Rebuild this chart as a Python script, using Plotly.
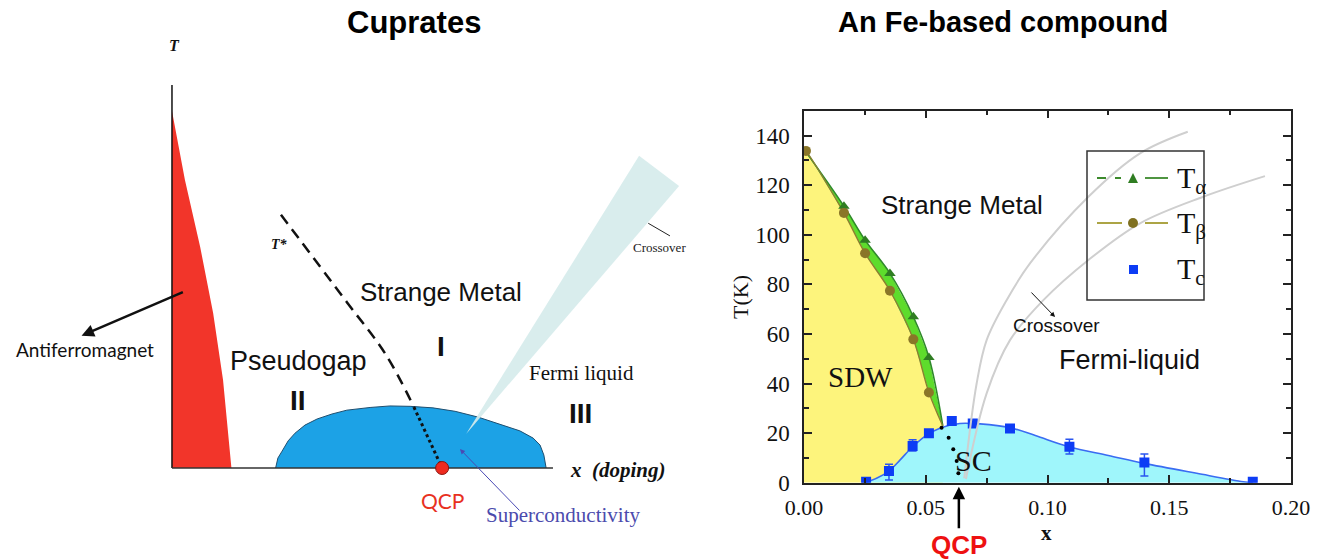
import plotly.graph_objects as go

W, H = 1325, 559
SANS = "Liberation Sans, Arial, sans-serif"
SERIF = "Liberation Serif, Times New Roman, serif"

# ---------------- Left panel: cuprate schematic (doping 0..1, T 0..1) -------------
afm_x = [0, 0.034, 0.074, 0.108, 0.134, 0.152, 0.156, 0]
afm_T = [0.932, 0.752, 0.577, 0.405, 0.230, 0.055, 0, 0]

sc_dome_x = [0.272, 0.278, 0.289, 0.305, 0.323, 0.349, 0.381, 0.420, 0.459, 0.520,
             0.572, 0.625, 0.685, 0.743, 0.803, 0.861, 0.913, 0.948, 0.966, 0.976, 0.982]
sc_dome_T = [0, 0.026, 0.044, 0.071, 0.091, 0.112, 0.128, 0.141, 0.151, 0.158,
             0.162, 0.161, 0.157, 0.148, 0.133, 0.115, 0.097, 0.078, 0.060, 0.034, 0]

tstar_x = [0.286, 0.459, 0.562, 0.635]
tstar_T = [0.661, 0.433, 0.295, 0.159]
qcp_line_x = [0.635, 0.709]
qcp_line_T = [0.159, 0.0]
qcp_x, qcp_T = [0.709], [0.0]

cone_x = [0.772, 1.226, 1.331]
cone_T = [0.089, 0.815, 0.736]

# ---------------- Right panel: Fe-based compound ----------------
ta_x = [0.0164, 0.0251, 0.0353, 0.0449, 0.0513]
ta_T = [111.5, 97.8, 84.4, 66.9, 50.5]
tb_x = [0.0008, 0.0164, 0.0251, 0.0353, 0.0449, 0.0513]
tb_T = [133.8, 108.8, 92.5, 77.4, 57.8, 36.4]
line_start = (0.0, 134.5)
line_end = (0.057, 22.9)

tc_x = [0.0255, 0.0349, 0.0446, 0.0513, 0.0607, 0.0693, 0.0846, 0.109, 0.1398, 0.1843]
tc_T = [0.4, 4.7, 14.8, 19.9, 24.9, 23.9, 21.9, 14.5, 8.1, 0.4]
tc_err_plus = [0, 2.7, 2.5, 0.8, 0.8, 0.8, 1.5, 3.0, 3.5, 0]
tc_err_minus = [0, 3.6, 2.0, 0.8, 0.8, 0.8, 1.5, 2.9, 5.4, 0]

tcfit_x = [0.025, 0.0298, 0.0349, 0.0394, 0.0446, 0.0504, 0.0563, 0.064, 0.0723,
           0.0846, 0.095, 0.1088, 0.125, 0.1398, 0.1613, 0.1804, 0.1843]
tcfit_T = [0, 1.8, 4.7, 9.1, 14.5, 19.2, 22.2, 23.9, 23.7, 22.2, 19.0, 14.5, 11.0,
           7.8, 3.8, 0.4, 0]

qcp_dots_x = [0.0565, 0.0594, 0.0613, 0.0627, 0.0634, 0.0636]
qcp_dots_T = [22.2, 18.1, 13.5, 8.7, 3.8, -0.9]

cross1_x = [0.0658, 0.0709, 0.075, 0.0832, 0.0928, 0.1168, 0.138, 0.1576]
cross1_T = [1.8, 40, 57.5, 73.6, 88.4, 115.3, 132.8, 141.5]
cross2_x = [0.0665, 0.075, 0.0846, 0.0983, 0.1168, 0.138, 0.164, 0.1893]
cross2_T = [1.5, 36, 57.5, 73.6, 89.8, 104.6, 115.3, 123.6]

x_ticks = [0, 0.05, 0.10, 0.15, 0.20]
x_ticktext = ["0.00", "0.05", "0.10", "0.15", "0.20"]
y_ticks = [0, 20, 40, 60, 80, 100, 120, 140]

fig = go.Figure()
L = dict(xaxis="x2", yaxis="y2", showlegend=False, hoverinfo="skip")

# left panel traces
fig.add_trace(go.Scatter(x=afm_x, y=afm_T, mode="lines", fill="toself",
                         fillcolor="#f2352a", line=dict(width=0), **L))
fig.add_trace(go.Scatter(x=sc_dome_x, y=sc_dome_T, mode="lines", fill="toself",
                         fillcolor="#1ca2e6", line=dict(color="#1f4f70", width=1), **L))
fig.add_trace(go.Scatter(x=cone_x + [cone_x[0]], y=cone_T + [cone_T[0]], mode="lines", fill="toself",
                         fillcolor="rgba(214,236,236,0.92)", line=dict(width=0), **L))
fig.add_trace(go.Scatter(x=[0, 0], y=[0, 1.0], mode="lines", line=dict(color="#111", width=1.5), **L))
fig.add_trace(go.Scatter(x=[0, 1.0], y=[0, 0], mode="lines", line=dict(color="#333", width=1.5), **L))
fig.add_trace(go.Scatter(x=tstar_x, y=tstar_T, mode="lines",
                         line=dict(color="#111", width=2.5, dash="11px,7px", shape="spline"), **L))
fig.add_trace(go.Scatter(x=qcp_line_x, y=qcp_line_T, mode="lines",
                         line=dict(color="#111", width=3, dash="3px,3px"), **L))
fig.add_trace(go.Scatter(x=qcp_x, y=qcp_T, mode="markers",
                         marker=dict(color="#ee2a1f", size=13, line=dict(color="#8a1410", width=1)), **L))
fig.add_trace(go.Scatter(x=[1.250, 1.307], y=[0.639, 0.606], mode="lines",
                         line=dict(color="#222", width=1), **L))

# right panel traces
R = dict(hoverinfo="skip")
yellow_x = [0, line_start[0]] + tb_x + [line_end[0], line_end[0], 0]
yellow_T = [0, line_start[1]] + tb_T + [line_end[1], 0, 0]
fig.add_trace(go.Scatter(x=yellow_x, y=yellow_T, mode="lines", fill="toself",
                         fillcolor="#fdf47c", line=dict(width=0), showlegend=False, **R))
band_x = [line_start[0]] + ta_x + [line_end[0]] + tb_x[::-1] + [line_start[0]]
band_T = [line_start[1]] + ta_T + [line_end[1]] + tb_T[::-1] + [line_start[1]]
fig.add_trace(go.Scatter(x=band_x, y=band_T, mode="lines", fill="toself",
                         fillcolor="#5edc2c", line=dict(width=0), showlegend=False, **R))
fig.add_trace(go.Scatter(x=tcfit_x, y=tcfit_T, mode="lines", fill="tozeroy",
                         fillcolor="#9ff6fb", line=dict(color="#3a6cf2", width=1.6, shape="spline"),
                         showlegend=False, **R))
fig.add_trace(go.Scatter(x=[line_start[0]] + ta_x + [line_end[0]], y=[line_start[1]] + ta_T + [line_end[1]],
                         mode="lines", line=dict(color="#2f8a2a", width=1.6, shape="spline"),
                         showlegend=False, **R))
fig.add_trace(go.Scatter(x=[line_start[0]] + tb_x + [line_end[0]], y=[line_start[1]] + tb_T + [line_end[1]],
                         mode="lines", line=dict(color="#8a8030", width=1.4, shape="spline"),
                         showlegend=False, **R))
fig.add_trace(go.Scatter(x=ta_x, y=ta_T, mode="markers",
                         marker=dict(symbol="triangle-up", size=10, color="#2f7d22"),
                         showlegend=False, **R))
fig.add_trace(go.Scatter(x=tb_x, y=tb_T, mode="markers",
                         marker=dict(symbol="circle", size=10, color="#8a7628"),
                         showlegend=False, **R))
fig.add_trace(go.Scatter(x=tc_x, y=tc_T, mode="markers",
                         marker=dict(symbol="square", size=10, color="#0d3cf5"),
                         error_y=dict(type="data", array=tc_err_plus, arrayminus=tc_err_minus,
                                      color="#2a55f0", thickness=1.5, width=4),
                         showlegend=False, **R))
fig.add_trace(go.Scatter(x=qcp_dots_x, y=qcp_dots_T, mode="markers",
                         marker=dict(color="#000", size=4), showlegend=False, **R))
fig.add_trace(go.Scatter(x=cross1_x, y=cross1_T, mode="lines",
                         line=dict(color="#cfcfcf", width=2, shape="spline"), showlegend=False, **R))
fig.add_trace(go.Scatter(x=cross2_x, y=cross2_T, mode="lines",
                         line=dict(color="#cfcfcf", width=2, shape="spline"), showlegend=False, **R))


def px(v):
    return v / W


def py(v):
    return 1 - v / H


ann = []


def txt2(text, x, y, size, family=SANS, color="#111", xanchor="center", **kw):
    ann.append(dict(text=text, x=x, y=y, xref="x2", yref="y2", showarrow=False,
                    font=dict(size=size, family=family, color=color), xanchor=xanchor,
                    yanchor="middle", **kw))


def txt1(text, x, y, size, family=SANS, color="#111", **kw):
    ann.append(dict(text=text, x=x, y=y, xref="x", yref="y", showarrow=False,
                    font=dict(size=size, family=family, color=color), xanchor="center",
                    yanchor="middle", **kw))


def txtp(text, x, y, size, family=SANS, color="#111", **kw):
    ann.append(dict(text=text, x=px(x), y=py(y), xref="paper", yref="paper", showarrow=False,
                    font=dict(size=size, family=family, color=color), xanchor="center",
                    yanchor="middle", **kw))


# titles
txtp("<b>Cuprates</b>", 414, 22, 31, color="#000")
txtp("<b>An Fe-based compound</b>", 1003, 22, 29, color="#000")

# left labels
txt2("<b><i>T</i></b>", 0.0073, 1.104, 16, SERIF)
txt2("<b><i>T*</i></b>", 0.283, 0.583, 14, SERIF)
txt2("Strange Metal", 0.706, 0.459, 26)
txt2("Pseudogap", 0.3315, 0.2804, 27)
txt2("<b>I</b>", 0.7066, 0.3175, 28)
txt2("<b>II</b>", 0.332, 0.176, 28)
txt2("<b>III</b>", 1.0722, 0.1418, 28)
txt2("Fermi liquid", 1.0761, 0.2483, 21, SERIF)
txt2("Antiferromagnet", -0.2278, 0.3084, 19, "Lato, Liberation Sans, sans-serif")
txt2("Crossover", 1.2808, 0.577, 13, SERIF, color="#222")
txt2("<b><i>x\u00a0\u00a0(doping)</i></b>", 1.0394, -0.0065, 21, SERIF, xanchor="left")
txt2("QCP", 0.7087, -0.0836, 21, "Lato, Liberation Sans, sans-serif", color="#e8311e")
txt2("Superconductivity", 1.0262, -0.1227, 21, SERIF, color="#4b4bad")

# left arrows
ann.append(dict(x=-0.2373, y=0.3454, ax=0.0325, ay=0.4611, xref="x2", yref="y2",
                axref="x2", ayref="y2", showarrow=True, arrowhead=2, arrowsize=1,
                arrowwidth=2.5, arrowcolor="#111", text=""))
ann.append(dict(x=0.7559, y=0.0493, ax=0.916, ay=-0.1149, xref="x2", yref="y2",
                axref="x2", ayref="y2", showarrow=True, arrowhead=2, arrowsize=1,
                arrowwidth=1, arrowcolor="#4a4ab5", text=""))

# right labels
txt1("Strange Metal", 0.0648, 112, 26)
txt1("Fermi-liquid", 0.1337, 49.5, 27)
txt1("Crossover", 0.1035, 63.2, 19)
txt1("SDW", 0.0231, 42.5, 29, SERIF)
txt1("SC", 0.0697, 9, 30, SERIF)
ann.append(dict(x=0.1031, y=66.8, ax=0.0928, ay=77.3, xref="x", yref="y", axref="x", ayref="y",
                showarrow=True, arrowhead=2, arrowsize=1, arrowwidth=1, arrowcolor="#111", text=""))
ann.append(dict(x=0.0636, y=0, xref="x", yref="y", ax=0, ay=58, yshift=-4, showarrow=True,
                arrowhead=2, arrowsize=1, arrowwidth=2.5, arrowcolor="#000", standoff=0,
                text="<b>QCP</b>", font=dict(size=26, family=SANS, color="#ee1111")))
txtp("T(K)", 740, 297, 22, SERIF, textangle=-90)
txtp("<b>x</b>", 1046, 533, 21, SERIF)

# legend (manual)
shapes = []
shapes.append(dict(type="rect", xref="paper", yref="paper", x0=px(1087), x1=px(1204),
                   y0=py(300), y1=py(151), line=dict(color="#333", width=1.5)))
for (xa, xb, yy, col, dash) in [(1097, 1121, 178, "#3c8a2c", "dash"), (1145, 1168, 178, "#3c8a2c", "solid"),
                                (1097, 1122, 223, "#a39a30", "solid"), (1145, 1168, 223, "#a39a30", "solid")]:
    shapes.append(dict(type="line", xref="paper", yref="paper", x0=px(xa), x1=px(xb), y0=py(yy), y1=py(yy),
                       line=dict(color=col, width=1.8, dash=dash)))
shapes.append(dict(type="path", xref="paper", yref="paper",
                   path=f"M{px(1128)},{py(183)} L{px(1138)},{py(183)} L{px(1133)},{py(173)} Z",
                   fillcolor="#2f7d22", line=dict(width=0)))
shapes.append(dict(type="circle", xref="paper", yref="paper", x0=px(1128), x1=px(1138),
                   y0=py(228), y1=py(218), fillcolor="#7f7020", line=dict(width=0)))
shapes.append(dict(type="rect", xref="paper", yref="paper", x0=px(1129), x1=px(1138),
                   y0=py(274), y1=py(265), fillcolor="#0d3cf5", line=dict(width=0)))
for yy, sub in [(180, "α"), (225, "β"), (271, "c")]:
    ann.append(dict(text=f"T<sub>{sub}</sub>", x=px(1175), y=py(yy), xref="paper", yref="paper",
                    showarrow=False, xanchor="left", yanchor="middle",
                    font=dict(size=30, family=SERIF, color="#111")))

axis_common = dict(showline=True, linecolor="#222", linewidth=1.5, mirror="ticks", ticks="inside",
                   ticklen=8, tickwidth=1.5, tickcolor="#222", showgrid=False, zeroline=False,
                   automargin=False)

fig.update_layout(
    template="none",
    width=W, height=H, margin=dict(l=0, r=0, t=0, b=0, autoexpand=False),
    paper_bgcolor="white", plot_bgcolor="rgba(0,0,0,0)", showlegend=False,
    xaxis=dict(domain=[804 / W, 1291 / W], range=[0, 0.2], tickvals=x_ticks, ticktext=x_ticktext,
               minor=dict(dtick=0.025, ticks="inside", ticklen=5, tickcolor="#222", tickwidth=1.5),
               ticklabelstandoff=4, anchor="y", tickfont=dict(size=22, family=SERIF, color="#111"),
               **axis_common),
    yaxis=dict(domain=[(H - 482.7) / H, (H - 110.7) / H], range=[0, 150], tickvals=y_ticks,
               minor=dict(dtick=10, ticks="inside", ticklen=5, tickcolor="#222", tickwidth=1.5),
               ticklabelstandoff=8, anchor="x", tickfont=dict(size=23, family=SERIF, color="#111"),
               **axis_common),
    xaxis2=dict(domain=[0, 689 / W], range=[-0.4514, 1.357], visible=False, anchor="y2",
                automargin=False),
    yaxis2=dict(domain=[0, 1], range=[-0.2376, 1.2219], visible=False, anchor="x2",
                automargin=False),
    annotations=ann, shapes=shapes,
)

fig.write_html("out.html")
